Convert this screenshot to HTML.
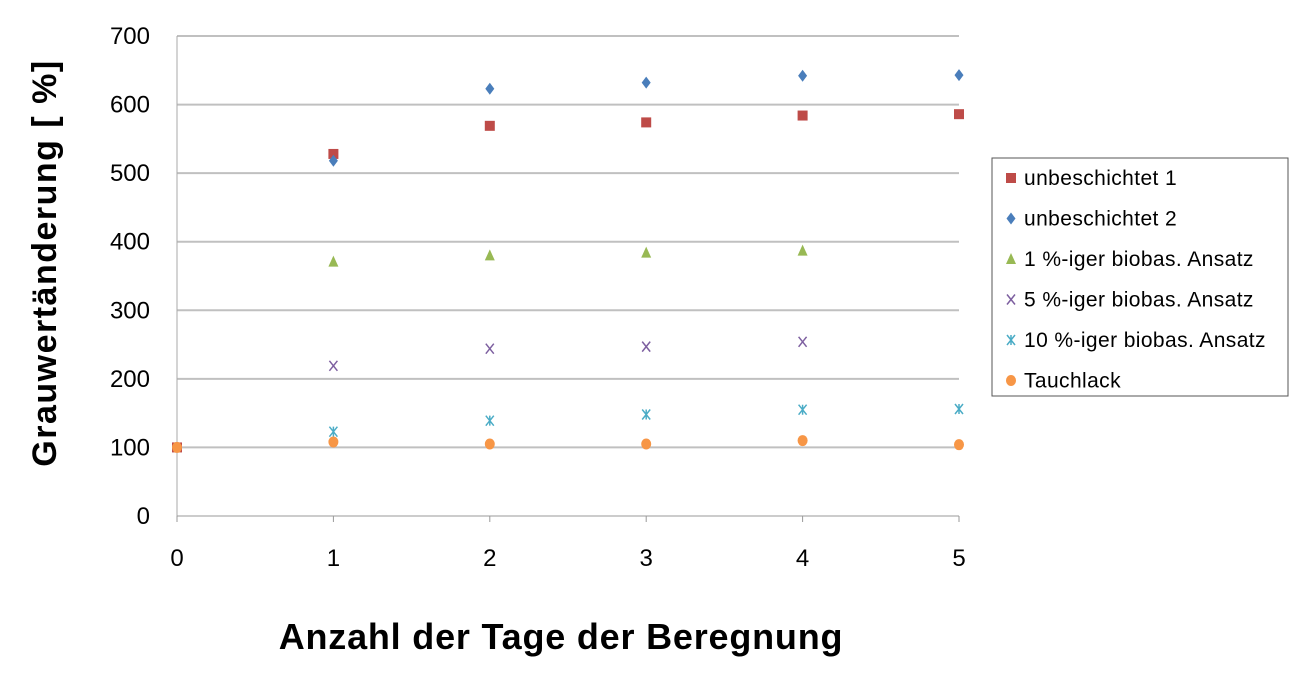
<!DOCTYPE html>
<html><head><meta charset="utf-8"><style>
body{margin:0;background:#fff;font-family:"Liberation Sans",sans-serif}
</style></head><body>
<svg width="1300" height="680" id="chart" style="font-family:'Liberation Sans',sans-serif">
<g id="grid"></g><g id="axes"></g><g id="marks"></g>
<text transform="translate(56,263) rotate(-90)" text-anchor="middle" font-size="34" font-weight="bold" letter-spacing="1.5" fill="#000">Grauwertänderung [ %]</text>
<text x="561" y="649" text-anchor="middle" font-size="36" font-weight="bold" letter-spacing="0.8" fill="#000">Anzahl der Tage der Beregnung</text>
<rect x="992" y="158" width="296" height="238" fill="#fff" stroke="#555" stroke-width="1"/>
<g id="legend"></g>
</svg>
<script>
const xTicks=[0,1,2,3,4,5];
const yTicks=[0,100,200,300,400,500,600,700];
const seriesNames=["unbeschichtet 1","unbeschichtet 2","1 %-iger biobas. Ansatz","5 %-iger biobas. Ansatz","10 %-iger biobas. Ansatz","Tauchlack"];
const xU1=[0,1,2,3,4,5]; const yU1=[100,528,569,574,584,586];
const xU2=[1,2,3,4,5]; const yU2=[518,623,632,642,643];
const xP1=[1,2,3,4]; const yP1=[371,380,384,387];
const xP5=[1,2,3,4]; const yP5=[219,244,247,254];
const xP10=[1,2,3,4,5]; const yP10=[123,139,148,155,156];
const xT=[0,1,2,3,4,5]; const yT=[100,108,105,105,110,104];
const NS="http://www.w3.org/2000/svg";
const X=v=>177+v*(959-177)/5, Y=v=>516-v*(516-36)/700;
function mk(t,a,p){const e=document.createElementNS(NS,t);for(const k in a)e.setAttribute(k,a[k]);p.appendChild(e);return e;}
const grid=document.getElementById('grid'),axes=document.getElementById('axes'),marks=document.getElementById('marks'),leg=document.getElementById('legend');
yTicks.forEach(v=>{if(v>0){const l=mk('line',{x1:177,x2:959,y1:Y(v),y2:Y(v),stroke:'#c0c0c0','stroke-width':2},grid);

}
const t=mk('text',{x:150,y:Y(v)+8,'text-anchor':'end','font-size':24},axes);t.textContent=v;

});
mk('line',{x1:177,x2:177,y1:36,y2:516,stroke:'#aaa','stroke-width':1},axes);
mk('line',{x1:177,x2:959,y1:516,y2:516,stroke:'#999','stroke-width':1},axes);
xTicks.forEach(v=>{mk('line',{x1:X(v),x2:X(v),y1:516,y2:522,stroke:'#999'},axes);
const t=mk('text',{x:X(v),y:566,'text-anchor':'middle','font-size':24},axes);t.textContent=v;

});
function marker(type,cx,cy,p){
 if(type==0)return mk('rect',{x:cx-5,y:cy-5,width:10,height:10,fill:'#be4b48'},p);
 if(type==1)return mk('polygon',{points:`${cx},${cy-6} ${cx+4.5},${cy} ${cx},${cy+6} ${cx-4.5},${cy}`,fill:'#4a7ebb'},p);
 if(type==2)return mk('polygon',{points:`${cx},${cy-6} ${cx+5},${cy+5} ${cx-5},${cy+5}`,fill:'#98b954'},p);
 if(type==3)return mk('path',{d:`M${cx-4},${cy-5}L${cx+4},${cy+5}M${cx+4},${cy-5}L${cx-4},${cy+5}`,stroke:'#7d5fa0','stroke-width':1.5,fill:'none'},p);
 if(type==4)return mk('path',{d:`M${cx-4},${cy-5}L${cx+4},${cy+5}M${cx+4},${cy-5}L${cx-4},${cy+5}M${cx},${cy-5}L${cx},${cy+5}`,stroke:'#4bacc6','stroke-width':1.5,fill:'none'},p);
 return mk('ellipse',{cx:cx,cy:cy,rx:5,ry:5.5,fill:'#f79646'},p);
}
const all=[[xU1,yU1],[xU2,yU2],[xP1,yP1],[xP5,yP5],[xP10,yP10],[xT,yT]];
all.forEach((s,i)=>{s[0].forEach((xv,j)=>{const m=marker(i,X(xv),Y(s[1][j]),marks);

});});
seriesNames.forEach((n,i)=>{const y=178+i*40.5;const g=mk('g',{},leg);


marker(i,1011,y,g);const t=mk('text',{x:1024,y:y+7,'font-size':21,'letter-spacing':0.4},g);t.textContent=n;});
</script>
</body></html>
